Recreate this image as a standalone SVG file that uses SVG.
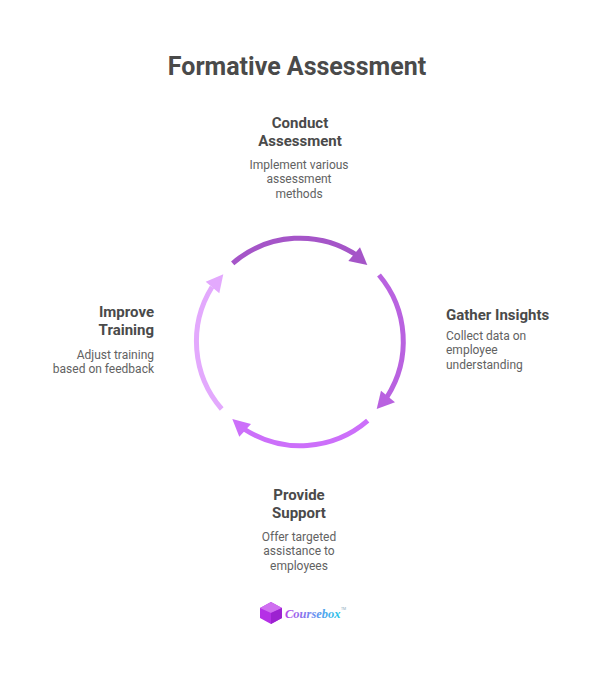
<svg xmlns="http://www.w3.org/2000/svg" width="600" height="674" viewBox="0 0 600 674">
<style>
text{font-family:Roboto,"Liberation Sans",sans-serif}
.t{font-size:25px;font-weight:700;fill:#4a4a4a;text-anchor:middle}
.h{font-size:15px;font-weight:700;fill:#4a4a4a}
.d{font-size:12px;fill:#626262}
.m{text-anchor:middle}.e{text-anchor:end}
.arc{fill:none;stroke-width:5}
</style>
<defs>
<linearGradient id="lg" x1="0" x2="1" y1="0" y2="0"><stop offset="0" stop-color="#b84ae8"/><stop offset=".5" stop-color="#6f8cf0"/><stop offset="1" stop-color="#25c8e8"/></linearGradient>
</defs>
<rect width="600" height="674" fill="#fff"/>
<text class="t" x="297" y="74.500">Formative Assessment</text>
<g id="connectors">
<g id="arc1"><path class="arc" stroke="#a555c8" d="M232.700 263.300A103 103 0 0 1 358 256"/><path fill="#a555c8" d="M367.300 265L348.300 261L360 247.300Z"/></g>
<g id="arc2"><path class="arc" stroke="#b962e0" d="M379 275A103 103 0 0 1 387 397"/><path fill="#b962e0" d="M376.700 409L381 390.700L395 402.300Z"/></g>
<g id="arc3"><path class="arc" stroke="#cc6ffa" d="M367.700 420.700A103 103 0 0 1 244 429"/><path fill="#cc6ffa" d="M232.300 419L251 424L239.300 436.700Z"/></g>
<g id="arc4"><path class="arc" stroke="#e3a9fd" d="M221.700 409A103 103 0 0 1 212 287"/><path fill="#e3a9fd" d="M223.300 274.300L205.700 281.700L219.300 293.300Z"/></g>
</g>
<g id="node-conduct"><text class="h m" x="300" y="128">Conduct</text><text class="h m" x="300" y="146">Assessment</text><text class="d m" x="299" y="169">Implement various</text><text class="d m" x="299" y="183">assessment</text><text class="d m" x="299" y="198">methods</text></g>
<g id="node-gather"><text class="h" x="446" y="320">Gather Insights</text><text class="d" x="446" y="340">Collect data on</text><text class="d" x="446" y="354">employee</text><text class="d" x="446" y="369">understanding</text></g>
<g id="node-support"><text class="h m" x="299" y="500">Provide</text><text class="h m" x="299" y="518">Support</text><text class="d m" x="299" y="541">Offer targeted</text><text class="d m" x="299" y="555">assistance to</text><text class="d m" x="299" y="570">employees</text></g>
<g id="node-improve"><text class="h e" x="154" y="317">Improve</text><text class="h e" x="154" y="335">Training</text><text class="d e" x="154" y="359">Adjust training</text><text class="d e" x="154" y="373">based on feedback</text></g>
<g id="logo">
<path fill="#b52fe6" d="M260 608L271 602L282 608V618L271 624L260 618Z"/>
<path fill="#cf6ff0" d="M260 608L271 602L282 608L271 613Z"/>
<path fill="#9c22d0" d="M271 613L282 608V618L271 624Z"/>
<text x="285" y="617.500" font-size="12.500" font-weight="700" font-style="italic" fill="url(#lg)" style="font-family:'Liberation Serif',serif">Coursebox</text>
<text x="341" y="610" font-size="3.500" fill="#8ab">TM</text>
</g>
</svg>
